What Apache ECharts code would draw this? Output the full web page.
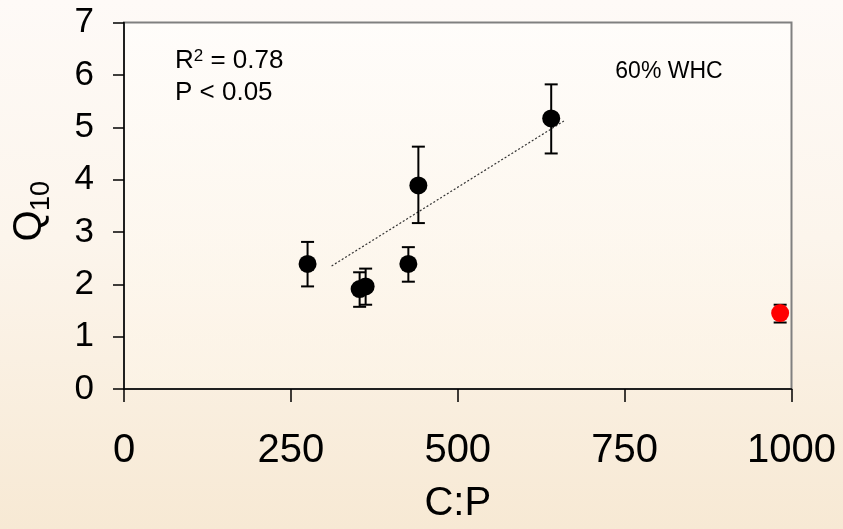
<!DOCTYPE html>
<html>
<head>
<meta charset="utf-8">
<script src="https://cdn.jsdelivr.net/npm/echarts@6/dist/echarts.min.js"></script>
<style>
  html, body { margin: 0; padding: 0; overflow: hidden; }
  #chart { width: 843px; height: 529px; }
</style>
</head>
<body>
<div id="chart"></div>
<script>
// ---- data ----
const cpValues   = [275, 353, 362, 426, 441, 640];
const q10Values  = [2.39, 1.91, 1.96, 2.39, 3.89, 5.17];
const q10Upper   = [2.81, 2.23, 2.30, 2.71, 4.63, 5.82];
const q10Lower   = [1.96, 1.57, 1.61, 2.05, 3.17, 4.50];

const redCp      = [983];
const redQ10     = [1.45];
const redUpper   = [1.61];
const redLower   = [1.27];

const trendX     = [311, 659];
const trendY     = [2.35, 5.12];

const xTicks     = [0, 250, 500, 750, 1000];
const yTicks     = [0, 1, 2, 3, 4, 5, 6, 7];

const conditionLabel = '60% WHC';
const xAxisTitle = 'C:P';

// ---- build series data ----
const FONT = "'Liberation Sans', Arial, sans-serif";
const blackPoints = cpValues.map((x, i) => [x, q10Values[i]]);
const redPoints = redCp.map((x, i) => [x, redQ10[i]]);
const errData = cpValues.map((x, i) => [x, q10Lower[i], q10Upper[i]])
  .concat(redCp.map((x, i) => [x, redLower[i], redUpper[i]]));
const trendData = trendX.map((x, i) => [x, trendY[i]]);

const chart = echarts.init(document.getElementById('chart'), null, { renderer: 'canvas' });

function renderErr(params, api) {
  const x = api.value(0);
  const lo = api.coord([x, api.value(1)]);
  const hi = api.coord([x, api.value(2)]);
  const cap = 6.5;
  const st = { stroke: '#000', lineWidth: 2 };
  return {
    type: 'group',
    children: [
      { type: 'line', shape: { x1: lo[0], y1: lo[1], x2: hi[0], y2: hi[1] }, style: st },
      { type: 'line', shape: { x1: lo[0] - cap, y1: lo[1], x2: lo[0] + cap, y2: lo[1] }, style: st },
      { type: 'line', shape: { x1: hi[0] - cap, y1: hi[1], x2: hi[0] + cap, y2: hi[1] }, style: st }
    ]
  };
}

const option = {
  animation: false,
  backgroundColor: {
    type: 'linear', x: 0, y: 0, x2: 0, y2: 1,
    colorStops: [
      { offset: 0, color: '#fefaf7' },
      { offset: 0.45, color: '#fcf5ec' },
      { offset: 1, color: '#f7e9d4' }
    ]
  },
  grid: {
    left: 124, right: 51.5, top: 22.6, bottom: 133.6,
    show: true,
    borderColor: '#808080',
    borderWidth: 2,
    backgroundColor: {
      type: 'linear', x: 0, y: 0, x2: 0, y2: 1,
      colorStops: [
        { offset: 0, color: 'rgba(255,253,251,0.85)' },
        { offset: 1, color: 'rgba(253,245,232,0.6)' }
      ]
    }
  },
  xAxis: {
    type: 'value', min: 0, max: 1000, interval: 250,
    splitLine: { show: false },
    axisLine: { onZero: false, lineStyle: { color: '#000', width: 1.5 } },
    axisTick: { show: true, inside: false, length: 13, lineStyle: { color: '#000', width: 1.5 } },
    axisLabel: { color: '#000', fontSize: 40, fontFamily: FONT, margin: 42,
      formatter: v => String(v) },
    name: xAxisTitle, nameLocation: 'middle', nameGap: 95,
    nameTextStyle: { color: '#000', fontSize: 40, fontFamily: FONT }
  },
  yAxis: {
    type: 'value', min: 0, max: 7, interval: 1,
    splitLine: { show: false },
    axisLine: { onZero: false, lineStyle: { color: '#000', width: 1.5 } },
    axisTick: { show: true, inside: false, length: 11, lineStyle: { color: '#000', width: 1.5 } },
    axisLabel: { color: '#000', fontSize: 35, fontFamily: FONT, margin: 30,
      formatter: v => String(v) }
  },
  graphic: [
    { type: 'text', x: 30, y: 226, rotation: Math.PI / 2,
      style: { text: 'Q', fontSize: 40, fontFamily: FONT, fill: '#000', align: 'center', verticalAlign: 'middle' } },
    { type: 'text', x: 42, y: 196, rotation: Math.PI / 2,
      style: { text: '10', fontSize: 27, fontFamily: FONT, fill: '#000', align: 'center', verticalAlign: 'middle' } },
    { type: 'text', x: 175, y: 61,
      style: { text: '{b|R}{s|2}{b| = 0.78}', fontFamily: FONT, fill: '#000', align: 'left', verticalAlign: 'middle',
        rich: {
          b: { fontSize: 26, fontFamily: FONT, lineHeight: 26 },
          s: { fontSize: 17, fontFamily: FONT, verticalAlign: 'top', lineHeight: 17 }
        } } },
    { type: 'text', x: 175, y: 93,
      style: { text: 'P < 0.05', fontSize: 26, fontFamily: FONT, fill: '#000', align: 'left', verticalAlign: 'middle' } },
    { type: 'text', x: 669, y: 72,
      style: { text: conditionLabel, fontSize: 23, fontFamily: FONT, fill: '#000', align: 'center', verticalAlign: 'middle' } }
  ],
  series: [
    {
      type: 'line', data: trendData, symbol: 'none', z: 2,
      lineStyle: { color: '#333', width: 1.2, type: [2, 2] }
    },
    {
      type: 'custom', data: errData, renderItem: renderErr, z: 3,
      encode: { x: 0, y: [1, 2] }
    },
    {
      type: 'scatter', data: blackPoints, symbol: 'circle', symbolSize: 18, z: 4,
      itemStyle: { color: '#000', opacity: 1 }
    },
    {
      type: 'scatter', data: redPoints, symbol: 'circle', symbolSize: 18, z: 4,
      itemStyle: { color: '#ff0000', opacity: 1 }
    }
  ]
};
chart.setOption(option);
</script>
</body>
</html>
